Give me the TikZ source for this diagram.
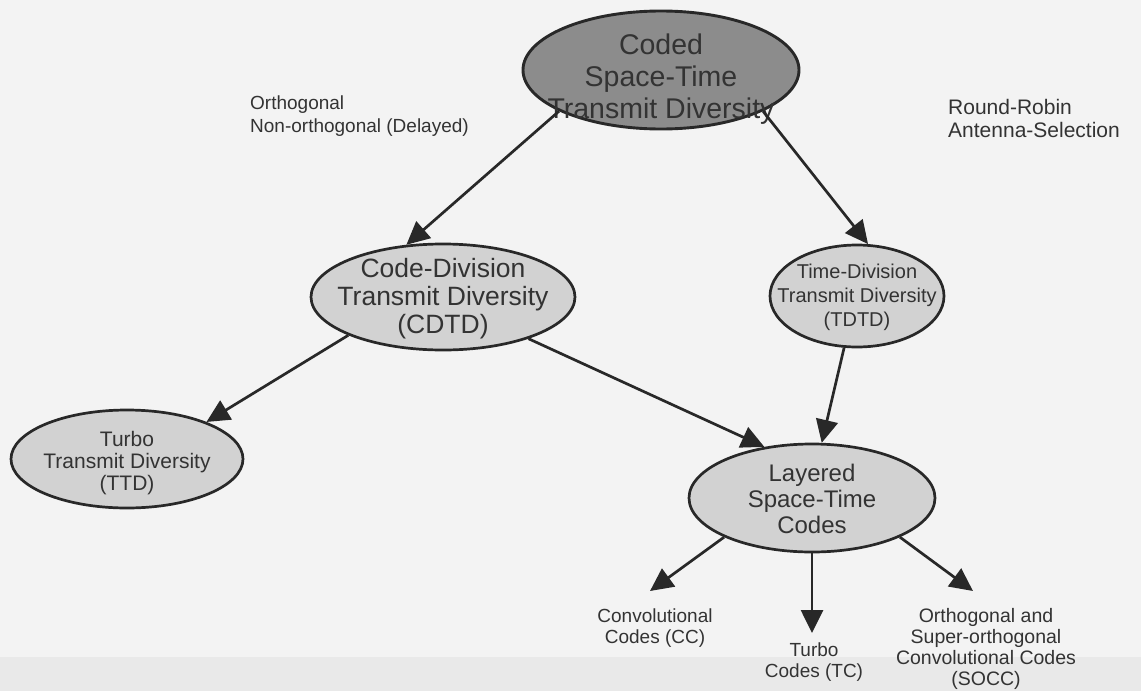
\documentclass[tikz,border=0pt]{standalone}
\usepackage{fontspec}
\setmainfont{Liberation Sans}
\usetikzlibrary{shapes.geometric,arrows.meta}
\definecolor{paper}{HTML}{F3F3F3}
\definecolor{band}{HTML}{E9E9E9}
\definecolor{ink}{HTML}{282828}
\definecolor{txt}{HTML}{333333}
\definecolor{darkfill}{HTML}{8C8C8C}
\definecolor{lightfill}{HTML}{D2D2D2}

\begin{document}
\begin{tikzpicture}[x=1pt,y=-1pt,
  oval/.style={ellipse, draw=ink, line width=2.7pt, fill=lightfill, inner sep=0pt},
  txtnode/.style={text=txt, align=center, inner sep=0pt},
  link/.style={draw=ink, line width=2.7pt, -{Triangle[length=23pt,width=22pt]}}
]
% page
\fill[paper] (0,0) rectangle (1141,691);
\fill[band] (0,657) rectangle (1141,691);
\useasboundingbox (0,0) rectangle (1141,691);

% ovals
\node[oval, fill=darkfill, line width=2.9pt, minimum width=276pt, minimum height=118pt] (top) at (661,70) {};
\node[txtnode, font=\fontsize{28.5}{32}\selectfont] (topT) at ([yshift=-9pt]top.center) {Coded\\Space-Time\\Transmit Diversity};

\node[oval, minimum width=264pt, minimum height=106pt] (cdtd) at (443,297) {};
\node[txtnode, font=\fontsize{26.5}{28}\selectfont] (cdtdT) at ([yshift=-2pt]cdtd.center) {Code-Division\\Transmit Diversity\\(CDTD)};

\node[oval, minimum width=174pt, minimum height=102pt] (tdtd) at (857,296) {};
\node[txtnode, font=\fontsize{20}{24}\selectfont] (tdtdT) at ([yshift=-1pt]tdtd.center) {Time-Division\\Transmit Diversity\\(TDTD)};

\node[oval, minimum width=232pt, minimum height=98pt] (ttd) at (127,459) {};
\node[txtnode, font=\fontsize{21}{22}\selectfont] (ttdT) at ([yshift=-4pt]ttd.center) {Turbo\\Transmit Diversity\\(TTD)};

\node[oval, minimum width=246pt, minimum height=108pt] (lst) at (812,498) {};
\node[txtnode, font=\fontsize{24}{26}\selectfont] (lstT) at ([yshift=-1pt]lst.center) {Layered\\Space-Time\\Codes};

% side notes
\node[txtnode, align=left, anchor=north west, font=\fontsize{19}{23}\selectfont] (notesL) at (250,96) {Orthogonal\\Non-orthogonal (Delayed)};
\node[txtnode, align=left, anchor=north west, font=\fontsize{21}{23}\selectfont] (notesR) at (948,99) {Round-Robin\\Antenna-Selection};

% leaf captions
\node[txtnode, font=\fontsize{19}{20.5}\selectfont] (cc) at (655,628) {Convolutional\\Codes (CC)};
\node[txtnode, font=\fontsize{19}{20.5}\selectfont] (tc) at (814,662) {Turbo\\Codes (TC)};
\node[txtnode, font=\fontsize{19.5}{21}\selectfont] (socc) at (986,649) {Orthogonal and\\Super-orthogonal\\Convolutional Codes\\(SOCC)};

\coordinate (cctip) at (650,591);
\coordinate (tctip) at (812,633);
\coordinate (socctip) at (973,591);

% connectors
\draw[link] (top.-158) -- (cdtd.125);
\draw[link] (top.-22) -- (tdtd.78);
\draw[link] (cdtd.-158) -- (ttd.25);
\draw[link] (cdtd.-26) -- (lst.133);
\draw[link] (tdtd.-104) -- (lst.80);
\draw[link] (lst.-156) -- (cctip);
\draw[link] (lst.-90) -- (tctip);
\draw[link] (lst.-24) -- (socctip);
\end{tikzpicture}
\end{document}
